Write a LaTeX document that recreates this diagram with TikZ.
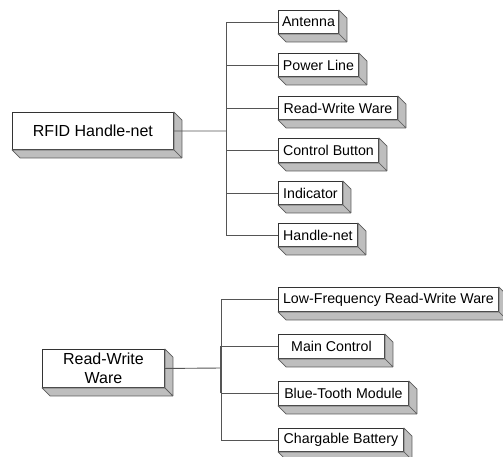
\documentclass[tikz,border=0pt]{standalone}
\usepackage{fontspec}
\setmainfont{Liberation Sans}
\usetikzlibrary{calc}

\definecolor{edgegray}{HTML}{333333}
\definecolor{linkgray}{HTML}{555555}
\definecolor{facegray}{HTML}{BEBEBE}

\tikzset{
  solidbox/.style={rectangle, draw=edgegray, fill=white, line width=0.9pt,
    inner sep=0pt, anchor=north west, align=center},
  rootbox/.style={solidbox, font=\fontsize{16}{19}\selectfont},
  leafbox/.style={solidbox, font=\fontsize{14.2}{17}\selectfont},
  sideface/.style={fill=facegray, draw=edgegray!80, line width=0.7pt, line join=round},
  link/.style={draw=linkgray, line width=0.9pt},
}

\begin{document}
\begin{tikzpicture}[x=1pt, y=-1pt]
\useasboundingbox (0,0) rectangle (503,456);
\clip (0,0) rectangle (503,456);

% upper tree
\node[rootbox, minimum width=161pt, minimum height=37pt] (rfid) at (12,112) {RFID Handle-net};
\node[leafbox, minimum width=60pt,  minimum height=23pt] (ant) at (278,10)  {Antenna};
\node[leafbox, minimum width=80pt,  minimum height=23pt] (pow) at (278,53)  {Power Line};
\node[leafbox, minimum width=119pt, minimum height=23pt] (rww) at (278,96)  {Read-Write Ware};
\node[leafbox, minimum width=100pt, minimum height=24pt] (btn) at (278,138) {Control Button};
\node[leafbox, minimum width=64pt,  minimum height=23pt] (ind) at (278,181) {Indicator};
\node[leafbox, minimum width=79pt,  minimum height=23pt] (hnt) at (278,223) {Handle-net};

% lower tree
\node[rootbox, minimum width=122pt, minimum height=38pt] (rw) at (42,349) {Read-Write\\Ware};
\node[leafbox, minimum width=220pt, minimum height=24pt] (lf)  at (278,287) {Low-Frequency Read-Write Ware};
\node[leafbox, minimum width=106pt, minimum height=24pt] (mc)  at (278,334) {Main Control};
\node[leafbox, minimum width=130pt, minimum height=24pt] (bt)  at (278,381) {Blue-Tooth Module};
\node[leafbox, minimum width=125pt, minimum height=23pt] (cb)  at (278,428) {Chargable Battery};

% extruded right and bottom faces
\foreach \n in {rfid,ant,pow,rww,btn,ind,hnt,rw,lf,mc,bt,cb}{
  \path[sideface] (\n.north east) -- ++(8,8) -- ($(\n.south east)+(8,8)$)
    -- (\n.south east) -- cycle;
  \path[sideface] (\n.south west) -- (\n.south east) -- ++(8,8)
    -- ($(\n.south west)+(8,8)$) -- cycle;
}

% connectors
\coordinate (j1) at (226,131);
\coordinate (j2) at (221,368);
\draw[link] (rfid.east) -- (j1);
\foreach \c in {ant,pow,rww,btn,ind,hnt}{
  \draw[link] (j1) |- (\c.west);
}
\draw[link] (rw.east) -- (j2);
\foreach \c in {lf,mc,bt,cb}{
  \draw[link] (j2) |- (\c.west);
}
\draw[link, line width=1.7pt] (mc.west -| j2) -- (bt.west -| j2);
\end{tikzpicture}
\end{document}
